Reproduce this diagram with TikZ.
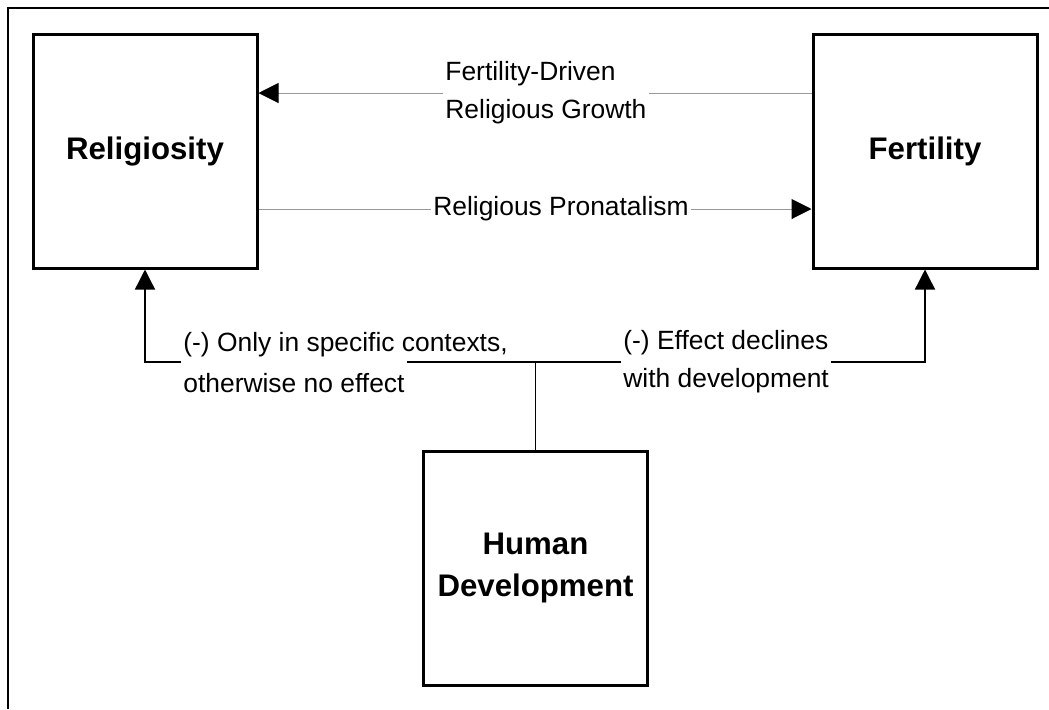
\documentclass[tikz,border=0pt]{standalone}
\usepackage{fontspec}
\setmainfont{Liberation Sans}
\usetikzlibrary{positioning, calc, arrows.meta}

\begin{document}
\begin{tikzpicture}[x=0.5pt, y=-0.5pt, >={Triangle[length=10pt, width=10pt, color=black]},
    factor/.style={draw, line width=1.5pt, minimum width=112pt, minimum height=117pt, align=center, font=\fontsize{15.6}{21}\selectfont\bfseries},
    effect/.style={align=left, inner sep=1pt, font=\fontsize{13.2}{19}\selectfont},
    flow/.style={draw=gray!80, line width=0.5pt},
    link/.style={draw=black, line width=0.7pt}]
    \useasboundingbox (0,0) rectangle (1049,709);

    % Frame
    \draw[line width=1pt] (1049,8) -- (8,8) -- (8,709);

    % Boxes
    \node[factor] (relig) at (145,151) {Religiosity};
    \node[factor] (fert) at (925,151) {Fertility};
    \node[factor] (hdev) at (535.5,568) {Human\\Development};

    % Upper arrows
    \node[effect, fill=white, anchor=west] (growth) at (443,93) {Fertility-Driven\\Religious Growth};
    \draw[flow] (fert.west |- growth) -- (growth.east);
    \draw[flow, ->] (growth.west) -- (relig.east |- growth);

    \node[effect, fill=white] (pronat) at (561,209) {Religious Pronatalism};
    \draw[flow] (relig.east |- pronat) -- (pronat.west);
    \draw[flow, ->] (pronat.east) -- (fert.west |- pronat);

    % Effects of development
    \coordinate (hub) at (535.5,362);
    \node[effect, anchor=west] (onlyA) at (181,345) {(-) Only in specific contexts,};
    \node[effect, anchor=west] (onlyB) at (181,383) {otherwise no effect};
    \node[effect, fill=white, anchor=west] (decline) at (621,362) {(-) Effect declines\\with development};

    \draw[link] (hdev.north) -- (hub);
    \draw[link] (hub) -- (decline.west);
    \draw[link, ->] (decline.east) -| (fert.south);
    \draw[link] (hub) -- (hub -| onlyB.east);
    \draw[link, ->] (hub -| onlyB.west) -| (relig.south);
\end{tikzpicture}
\end{document}
